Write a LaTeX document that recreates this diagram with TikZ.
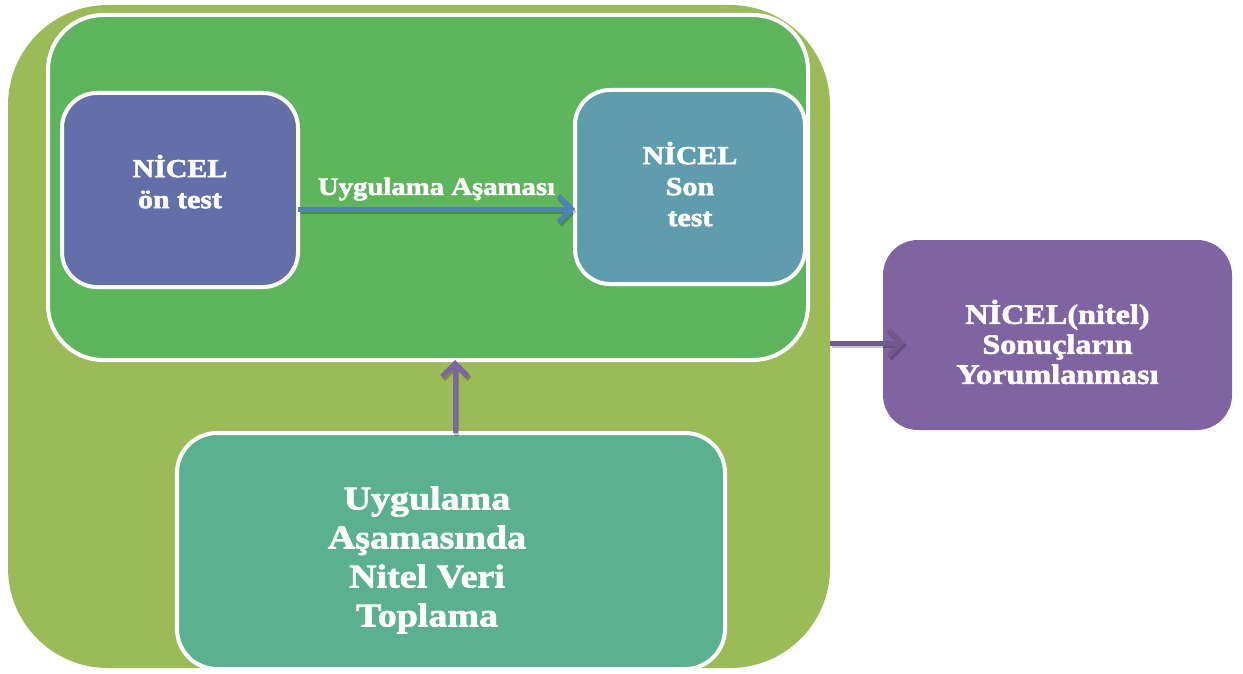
\documentclass[tikz,border=0pt]{standalone}
\usepackage{fontspec}
\setmainfont{Liberation Serif}[FakeStretch=1.15, BoldFeatures={FakeBold=2}]
\usetikzlibrary{arrows.meta}
\definecolor{olive}{HTML}{9BBB59}
\definecolor{grn}{HTML}{5FB55D}
\definecolor{onc}{HTML}{626FA9}
\definecolor{sonc}{HTML}{5F9DAE}
\definecolor{purp}{HTML}{8064A2}
\definecolor{tealc}{HTML}{5BB08F}
\definecolor{blu}{HTML}{4F81BD}
\begin{document}
\begin{tikzpicture}[x=1pt,y=-1pt,
  box/.style={draw=white, line width=4pt, inner sep=0pt, outer sep=0pt, text=white, align=center, font=\bfseries},
  arr/.style={line width=5pt, -{Straight Barb[length=13pt,width=26pt,line width=5pt]}},
  shad/.style={arr, draw=black, opacity=0.22, transform canvas={xshift=1.5pt,yshift=-2.5pt}},
  lbl/.style={text=white, font=\bfseries, inner sep=0pt, align=center}]
\useasboundingbox (0,0) rectangle (1243,674);
\node[fill=olive, rounded corners=100pt, minimum width=822pt, minimum height=663pt, inner sep=0pt, outer sep=0pt] (outer) at (419,336.5) {};
\node[box, fill=grn, rounded corners=55pt, minimum width=760pt, minimum height=345pt] (green) at (428,187.5) {};
\node[box, fill=onc, rounded corners=35pt, minimum width=236pt, minimum height=194pt, font=\bfseries\fontsize{26}{31}\selectfont] (on) at (180,190) {NİCEL\\ön test\\[-14pt]};
\node[box, fill=sonc, rounded corners=35pt, minimum width=230pt, minimum height=194pt, font=\bfseries\fontsize{26}{31}\selectfont] (son) at (690,187) {NİCEL\\Son\\test\\[-25pt]};
\node[box, draw=none, fill=purp, rounded corners=35pt, minimum width=349pt, minimum height=190pt, font=\bfseries\fontsize{28}{30}\selectfont] (res) at (1057.5,335) {\\[8pt]NİCEL(nitel)\\Sonuçların\\Yorumlanması};
\node[box, fill=tealc, rounded corners=40pt, minimum width=548pt, minimum height=236pt] (veri) at (451,551) {};
\node[lbl, font=\bfseries\fontsize{33}{39}\selectfont] (veritxt) at ([xshift=-24pt,yshift=-9pt]veri.center) {Uygulama\\Aşamasında\\Nitel Veri\\Toplama};
\draw[shad] ([yshift=-19pt]on.east) -- ([yshift=-22pt]son.west);
\draw[arr, blu] ([yshift=-19pt]on.east) -- node[lbl, above=6pt, font=\bfseries\fontsize{25}{28}\selectfont] (asama) {Uygulama Aşaması} ([yshift=-22pt]son.west);
\draw[shad] ([yshift=-6.5pt]outer.east) -- ([xshift=22pt,yshift=-8pt]res.west);
\draw[arr, purp!88!black] ([yshift=-6.5pt]outer.east) -- ([xshift=22pt,yshift=-8pt]res.west);
\draw[shad] ([xshift=4pt]veri.north) -- ([xshift=27pt]green.south);
\draw[arr, purp] ([xshift=4pt]veri.north) -- ([xshift=27pt]green.south);
\end{tikzpicture}
\end{document}
